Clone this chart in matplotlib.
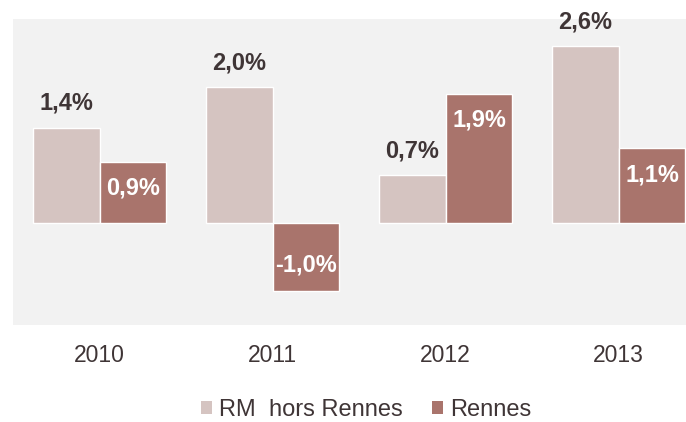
import numpy as np
import matplotlib
matplotlib.use("Agg")
from matplotlib import pyplot as plt
from matplotlib.patches import Patch

# data
years = ['2010', '2011', '2012', '2013']
rm_hors_rennes = [1.4, 2.0, 0.7, 2.6]
rennes = [0.9, -1.0, 1.9, 1.1]
series_names = ['RM  hors Rennes', 'Rennes']

light = '#D5C4C1'
dark = '#A9746C'
text_col = '#3F3536'

plt.rcParams['font.family'] = ['Liberation Sans', 'DejaVu Sans']

fig = plt.figure(figsize=(6.86, 4.22), dpi=100)
# plot area runs past the right edge of the picture (cropped original)
ax = fig.add_axes([13 / 686, 97 / 422, 692 / 686, 306 / 422])
ax.set_facecolor('#F2F2F2')

x = np.arange(len(years))
w = 0.387
b1 = ax.bar(x - w / 2, rm_hors_rennes, w, color=light, edgecolor='white', linewidth=1)
b2 = ax.bar(x + w / 2, rennes, w, color=dark, edgecolor='white', linewidth=1)

def fmt(v):
    return f'{v:.1f}%'.replace('.', ',')

# labels above the light bars
for rect, v in zip(b1, rm_hors_rennes):
    ax.annotate(fmt(v), (rect.get_x() + rect.get_width() / 2, v),
                xytext=(0, 17.5), textcoords='offset points', ha='center', va='center',
                fontsize=17, fontweight='bold', color=text_col)

# labels inside the end of the dark bars
for rect, v in zip(b2, rennes):
    off = -19 if v >= 0 else 18.5
    ax.annotate(fmt(v), (rect.get_x() + rect.get_width() / 2, v),
                xytext=(0, off), textcoords='offset points', ha='center', va='center',
                fontsize=17, fontweight='bold', color='white')

ax.set_xlim(-0.5, 3.5)
ax.set_ylim(-1.5, 3.0)
ax.set_xticks(x)
ax.set_xticklabels(years, fontsize=16.5, color=text_col)
ax.tick_params(axis='x', length=0, pad=14)
ax.set_yticks([])
for s in ax.spines.values():
    s.set_visible(False)

handles = [Patch(facecolor=light, edgecolor='none'), Patch(facecolor=dark, edgecolor='none')]
fig.legend(handles, series_names, loc='center', bbox_to_anchor=(366 / 686, 12 / 422),
           ncol=2, frameon=False, fontsize=17, labelcolor=text_col,
           handlelength=0.47, handleheight=0.47, handletextpad=0.28, columnspacing=1.25)

fig.savefig('out.png', dpi=100)
